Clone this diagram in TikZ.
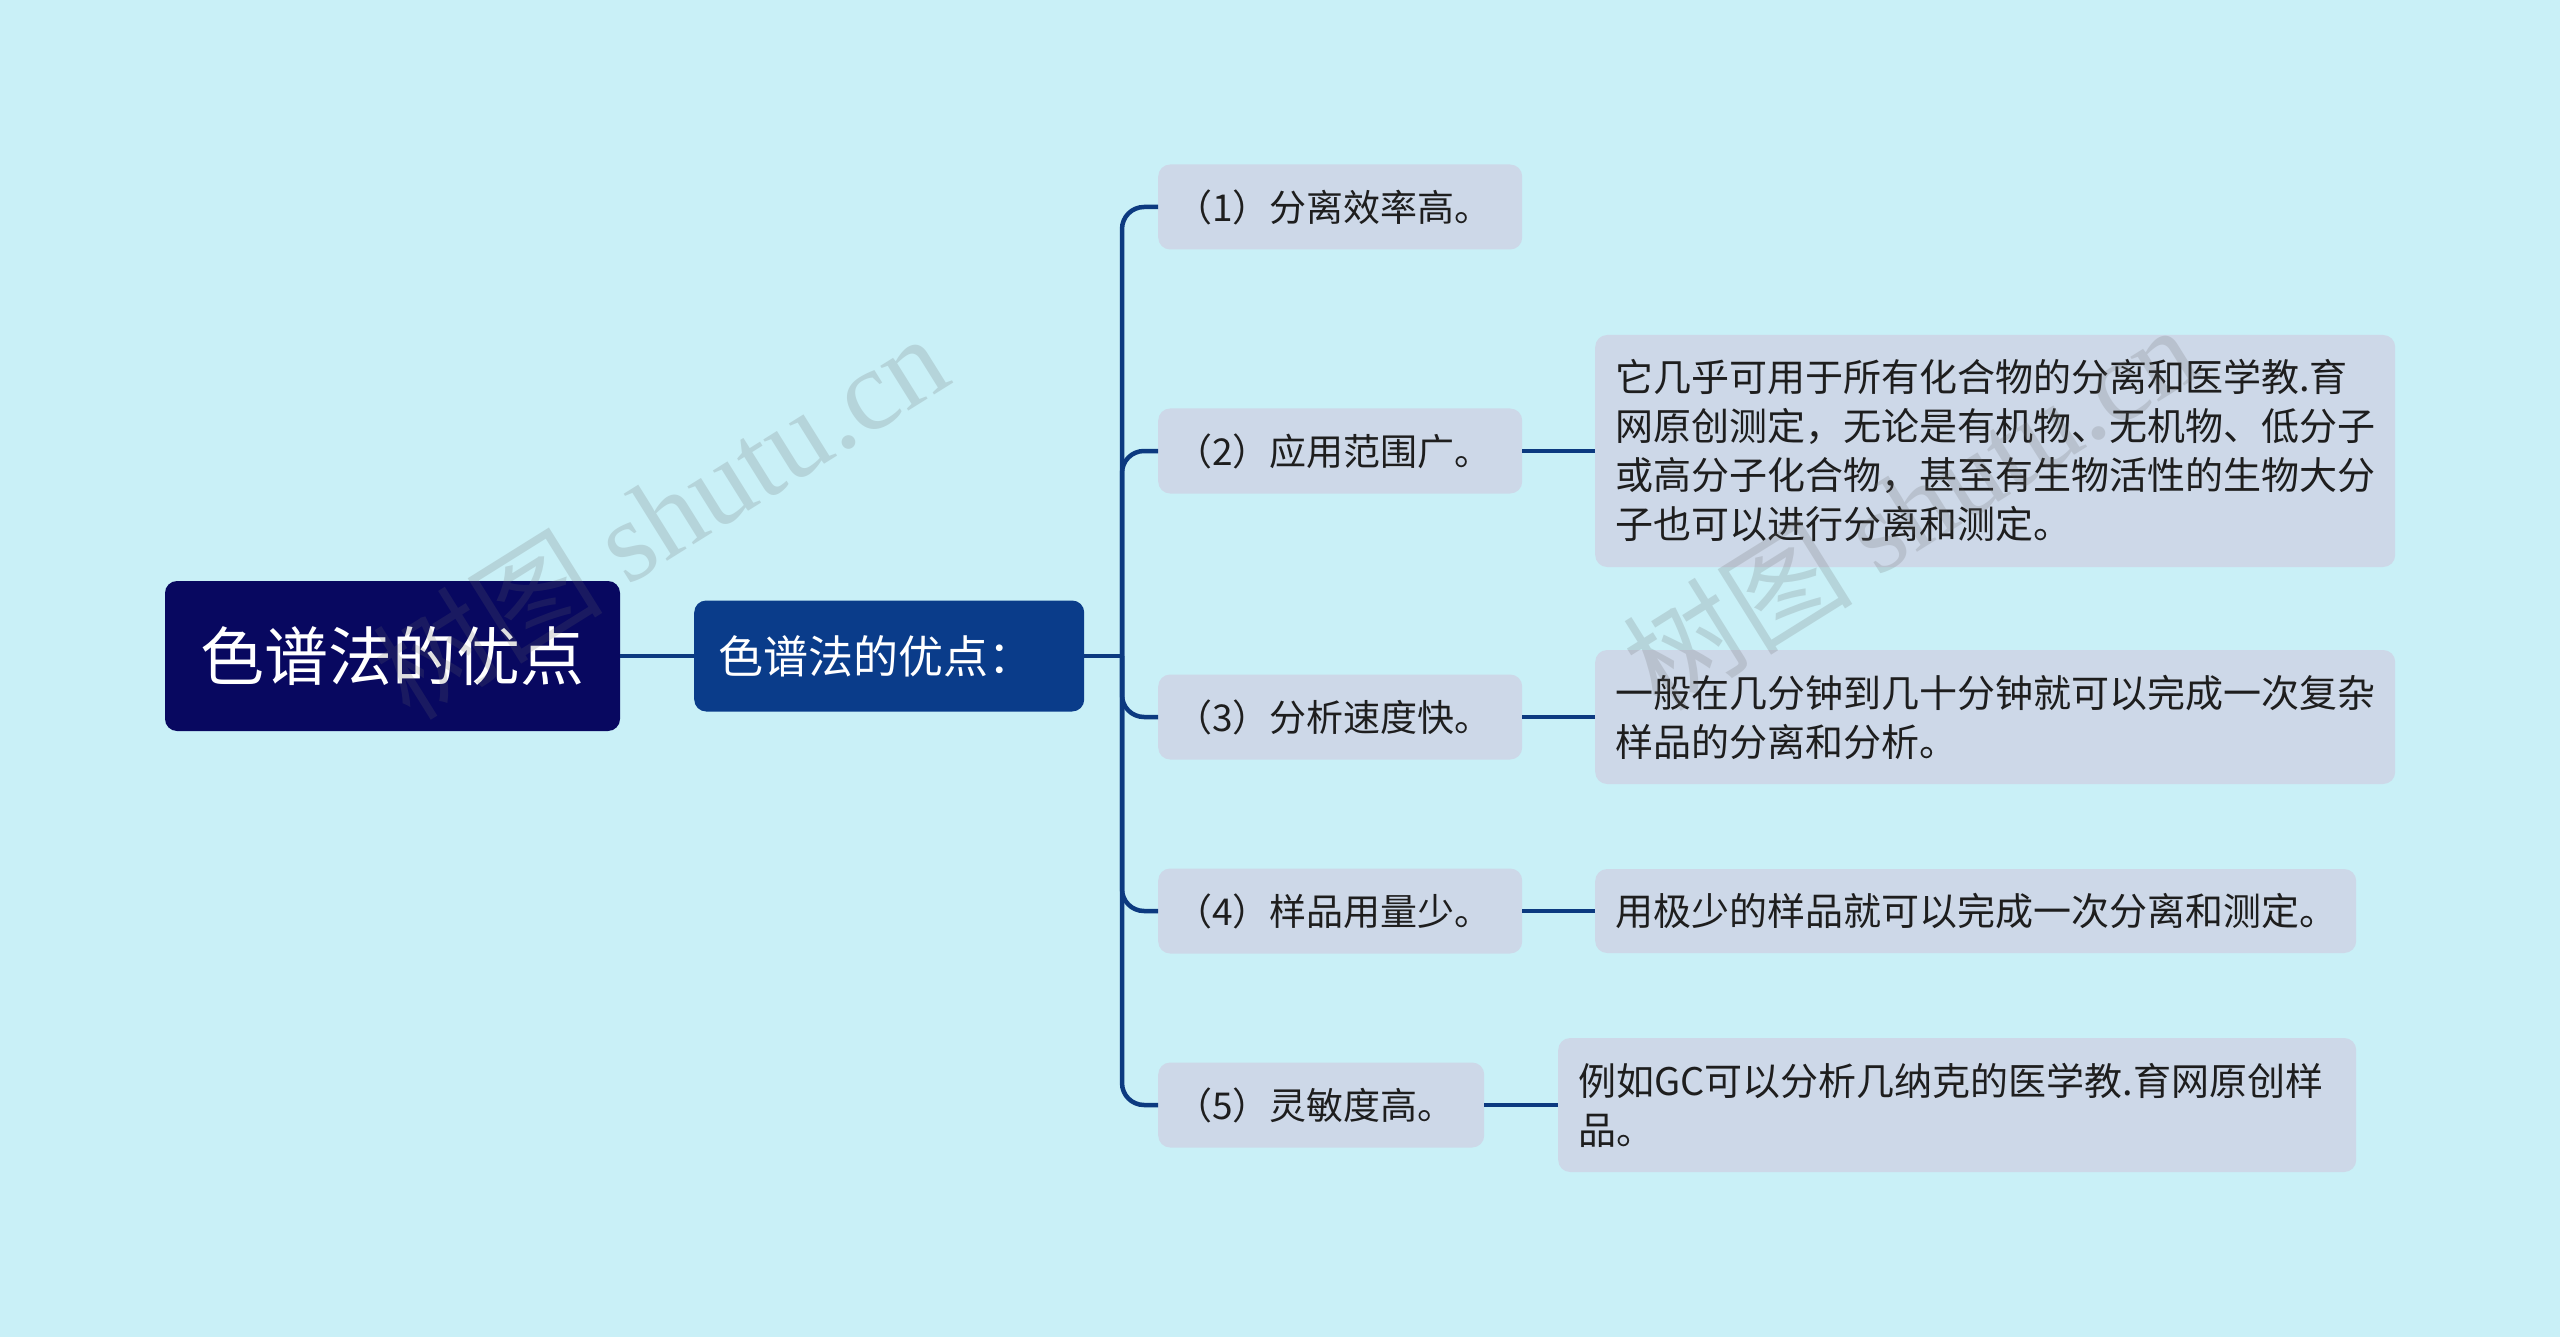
\documentclass[tikz,border=0pt]{standalone}
\usepackage{fontspec}
\setmainfont{Noto Sans CJK SC}
\newfontfamily\wmlatin{Liberation Serif}
\definecolor{bgc}{RGB}{201,240,247}
\definecolor{rootc}{RGB}{8,8,96}
\definecolor{subc}{RGB}{10,60,138}
\definecolor{boxc}{RGB}{205,216,232}
\definecolor{linec}{RGB}{12,58,128}
\definecolor{txtc}{RGB}{30,30,30}
\begin{document}
\begin{tikzpicture}[x=1pt,y=-1pt,
  conn/.style={draw=linec, line width=4.5pt},
  rootbox/.style={fill=rootc, rounded corners=12pt, text=white, align=center,
    minimum width=455pt, minimum height=150pt, inner sep=0pt,
    font=\fontsize{64}{76}\selectfont},
  subbox/.style={fill=subc, rounded corners=12pt, text=white, anchor=west, align=left,
    text width=342pt, inner xsep=24pt, inner ysep=0pt, minimum height=111pt,
    font=\fontsize{45}{56}\selectfont},
  lvtwo/.style={fill=boxc, rounded corners=12pt, text=txtc, anchor=west, align=left,
    inner xsep=17pt, inner ysep=0pt, minimum height=85pt,
    font=\fontsize{37}{49}\selectfont},
  lvthree/.style={fill=boxc, rounded corners=12pt, text=txtc, anchor=west, align=left,
    inner xsep=20pt, inner ysep=0pt,
    font=\fontsize{38}{49}\selectfont},
  wm/.style={text=black!60, text opacity=0.2, rotate=32, inner sep=0pt,
    font=\fontsize{115}{115}\selectfont}
]
\useasboundingbox (0,0) rectangle (2560,1337);
\fill[bgc] (0,0) rectangle (2560,1337);

\node[rootbox] (root) at (392.5,656) {色谱法的优点};
\node[subbox] (sub) at (694,656) {色谱法的优点：};
\coordinate (trunk) at (1122,656);

\node[lvtwo, text width=330pt] (c1) at (1158,207) {（1）分离效率高。};
\node[lvtwo, text width=330pt] (c2) at (1158,451) {（2）应用范围广。};
\node[lvtwo, text width=330pt] (c3) at (1158,717) {（3）分析速度快。};
\node[lvtwo, text width=330pt] (c4) at (1158,911) {（4）样品用量少。};
\node[lvtwo, text width=292pt] (c5) at (1158,1105) {（5）灵敏度高。};

\node[lvthree, text width=760pt, minimum height=232pt] (d2) at (1595,451)
  {它几乎可用于所有化合物的分离和医学教.育\\网原创测定，无论是有机物、无机物、低分子\\或高分子化合物，甚至有生物活性的生物大分\\子也可以进行分离和测定。};
\node[lvthree, text width=760pt, minimum height=134pt] (d3) at (1595,717)
  {一般在几分钟到几十分钟就可以完成一次复杂\\样品的分离和分析。};
\node[lvthree, text width=721pt, minimum height=84pt] (d4) at (1595,911)
  {用极少的样品就可以完成一次分离和测定。};
\node[lvthree, text width=758pt, minimum height=134pt] (d5) at (1558,1105)
  {例如GC可以分析几纳克的医学教.育网原创样\\品。};

\draw[conn] (root.east) -- (sub.west);
\draw[conn] (sub.east) -- (trunk);
\foreach \c in {c1,c2,c3,c4,c5}
  \draw[conn, rounded corners=22pt] (trunk) |- (\c.west);
\draw[conn] (c2.east) -- (d2.west);
\draw[conn] (c3.east) -- (d3.west);
\draw[conn] (c4.east) -- (d4.west);
\draw[conn] (c5.east) -- (d5.west);

\node[wm] (wm1) at (660,515) {树图 {\wmlatin shutu.cn}};
\node[wm] (wm2) at (1910,506) {树图 {\wmlatin shutu.cn}};
\end{tikzpicture}
\end{document}
